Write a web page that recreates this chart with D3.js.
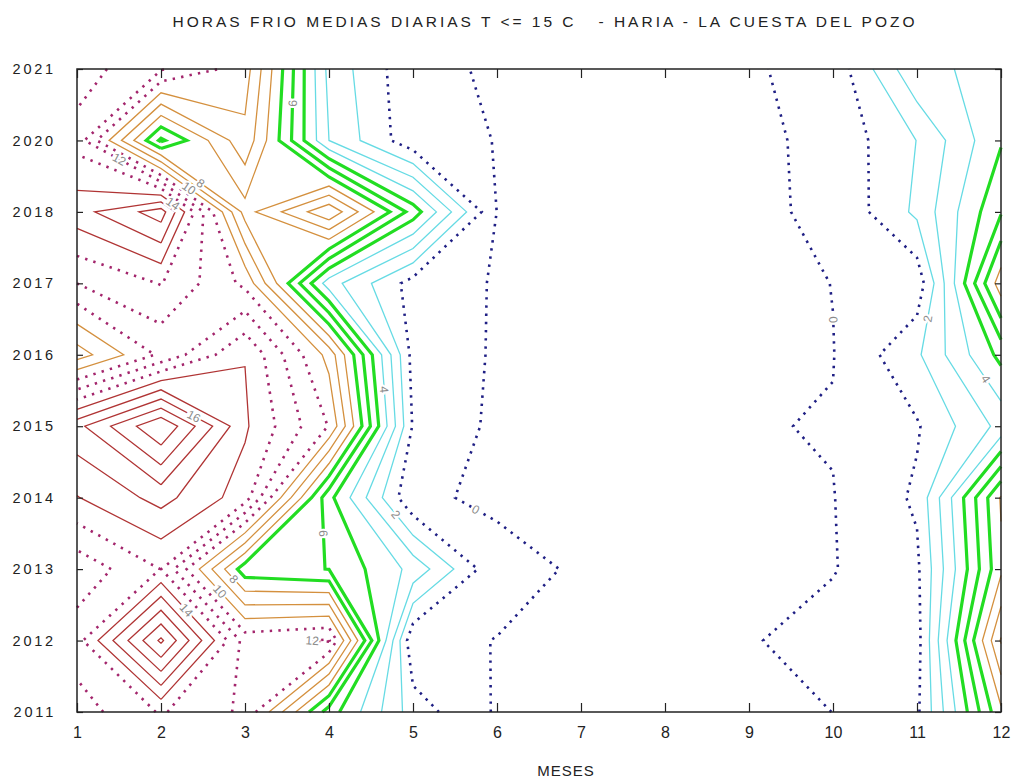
<!DOCTYPE html>
<html><head><meta charset="utf-8">
<script src="https://cdn.jsdelivr.net/npm/d3@7"></script>
<style>body{margin:0;background:#fff;} svg{display:block;font-family:"Liberation Sans",Arial,sans-serif;}</style>
</head><body>
<svg id="chart" width="1013" height="778"></svg>
<script>
// ---------- data ----------
const months = [1,2,3,4,5,6,7,8,9,10,11,12];
const yearLabels = ["2011","2012","2013","2014","2015","2016","2017","2018","2020","2021"];
// mean daily cold hours (T <= 15 C), one array per year, months 1..12
const h2011 = [11.5, 13.1, 11.8, 5.5, 1.5, -0.12, -0.5, -0.5, -1.0, 0.02, 0.8, 7.8];
const h2012 = [12.6, 18.2, 11.6, 12.1, 0.15, -0.013, -0.5, -0.5, -0.07, 0.35, 0.6, 10.1];
const h2013 = [11.3, 13.02, 6.4, 5.98, 3.7, 0.2, -0.07, -0.5, -0.5, -0.05, 0.8, 7.8];
const h2014 = [13.95, 15.35, 13.5, 5.3, 0.1, -0.1, -0.5, -0.5, -0.5, -0.03, 1.15, 8.1];
const h2015 = [15.7, 18.95, 14.15, 10.95, 0.9, -0.225, -0.5, -0.5, -0.055, 0.05, 0.9, 3.3];
const h2016 = [8.5, 11.2, 13.97, 9.65, 0.63, -0.1, -0.5, -0.5, -0.5, -0.03, 1.83, 5.3];
const h2017 = [12.0, 13.05, 10.75, 3.45, 0.58, -0.08, -0.5, -0.5, -0.5, 0.02, 0.32, 8.6];
const h2018 = [14.6, 16.5, 7.6, 10.83, 5.55, -0.02, -0.5, -0.5, -0.1, 0.1, 2.21, 5.9];
const h2020 = [12.6, 5.8, 9.72, 3.0, 0.3, -0.02, -0.5, -0.5, -0.22, 0.26, 2.02, 4.9];
const h2021 = [13.5, 12.1, 10.5, 2.7, 0.23, -0.11, -0.5, -0.5, -0.1, 0.33, 3.84, 4.2];
const contourLevels = [0,1,2,3,4,5,6,7,8,9,10,11,12,13,14,15,16,17,18];
// contour labels: level and approximate (month, year-row) where they were written
const labelLevels = [0, 0, 2, 4, 2, 4, 6, 6, 8, 10, 14, 12, 16, 14, 10, 8, 12];
const labelMonths = [5.76, 10.0, 11.11, 11.77, 4.79, 4.63, 3.97, 3.58, 2.5, 2.33, 2.17, 1.51, 2.44, 2.37, 2.74, 2.86, 3.5];
const labelRows   = [2.86, 5.49, 5.51, 4.62, 2.76, 4.51, 2.5, 8.52, 7.45, 7.33, 7.16, 7.75, 4.25, 1.5, 1.73, 1.85, 1.0];
const titleText = "HORAS FRIO MEDIAS DIARIAS T <= 15 C   - HARIA - LA CUESTA DEL POZO";
const xTitleText = "MESES";

const grid = [h2011, h2012, h2013, h2014, h2015, h2016, h2017, h2018, h2020, h2021];

// ---------- layout ----------
const svg = d3.select("#chart");
const pLeft = 77, pRight = 1001, pTop = 69, pBottom = 712;
const x = d3.scaleLinear().domain([1, 12]).range([pLeft, pRight]);
const yRow = d3.scaleLinear().domain([0, yearLabels.length - 1]).range([pBottom, pTop]);
const yBand = d3.scalePoint().domain(yearLabels).range([pBottom, pTop]);

function styleFor(l) {
  if (l <= 1) return {c: "#1f1f84", w: 2.6, dash: "2.4,5.8"};
  if (l <= 4) return {c: "#66dbe4", w: 1.3, dash: null};
  if (l <= 7) return {c: "#22dd22", w: 3.2, dash: null};
  if (l <= 10) return {c: "#d4903e", w: 1.3, dash: null};
  if (l <= 13) return {c: "#a3256c", w: 2.6, dash: "2.4,6.2"};
  return {c: "#b03434", w: 1.3, dash: null};
}

// marching squares on the (month, row) grid, chained into polylines.
// Saddle cells: the high corners are cut off on their own.
function contourLines(g, L) {
  const ny = g.length, nx = g[0].length;
  const segs = [];
  for (let j = 0; j < ny - 1; j++) {
    for (let i = 0; i < nx - 1; i++) {
      const a = g[j][i], b = g[j][i+1], c = g[j+1][i+1], d = g[j+1][i];
      const A = a >= L, B = b >= L, C = c >= L, D = d >= L;
      const e = {};
      if (A !== B) e.B = {id: "h" + i + "_" + j, p: [i + (L - a) / (b - a), j]};
      if (B !== C) e.R = {id: "v" + (i+1) + "_" + j, p: [i + 1, j + (L - b) / (c - b)]};
      if (D !== C) e.T = {id: "h" + i + "_" + (j+1), p: [i + (L - d) / (c - d), j + 1]};
      if (A !== D) e.L = {id: "v" + i + "_" + j, p: [i, j + (L - a) / (d - a)]};
      const k = Object.keys(e);
      if (k.length === 2) segs.push([e[k[0]], e[k[1]]]);
      else if (k.length === 4) {
        if (A) segs.push([e.B, e.L]);
        if (B) segs.push([e.B, e.R]);
        if (C) segs.push([e.R, e.T]);
        if (D) segs.push([e.T, e.L]);
      }
    }
  }
  const byId = new Map(), pt = new Map();
  segs.forEach((s, si) => s.forEach(en => {
    if (!byId.has(en.id)) byId.set(en.id, []);
    byId.get(en.id).push(si);
    pt.set(en.id, en.p);
  }));
  const used = new Array(segs.length).fill(false);
  const lines = [];
  function walk(startId) {
    const line = [pt.get(startId)];
    let cur = startId;
    while (true) {
      const next = (byId.get(cur) || []).find(si => !used[si]);
      if (next === undefined) break;
      used[next] = true;
      const s = segs[next];
      cur = s[0].id === cur ? s[1].id : s[0].id;
      line.push(pt.get(cur));
    }
    return line;
  }
  for (const [id, list] of byId) if (list.length === 1 && !used[list[0]]) lines.push(walk(id));
  segs.forEach((s, si) => { if (!used[si]) lines.push(walk(s[0].id)); });
  return lines;
}

const plot = svg.append("g");
const lineGen = d3.line().x(p => x(p[0] + 1)).y(p => yRow(p[1]));
const allLines = {};
contourLevels.forEach(L => {
  const lines = contourLines(grid, L);
  allLines[L] = lines;
  const st = styleFor(L);
  plot.selectAll(null).data(lines).enter().append("path")
    .attr("d", lineGen)
    .attr("fill", "none")
    .attr("stroke", st.c)
    .attr("stroke-width", st.w)
    .attr("stroke-linejoin", "miter")
    .attr("stroke-dasharray", st.dash);
});

// contour labels placed on the nearest point of their contour
const lab = svg.append("g");
labelLevels.forEach((L, k) => {
  const tx = x(labelMonths[k]), ty = yRow(labelRows[k]);
  let best = null;
  (allLines[L] || []).forEach(line => {
    for (let s = 0; s < line.length - 1; s++) {
      const x1 = x(line[s][0] + 1), y1 = yRow(line[s][1]);
      const x2 = x(line[s+1][0] + 1), y2 = yRow(line[s+1][1]);
      const dx = x2 - x1, dy = y2 - y1, len2 = dx*dx + dy*dy || 1;
      let t = ((tx - x1) * dx + (ty - y1) * dy) / len2;
      t = Math.max(0, Math.min(1, t));
      const px = x1 + t*dx, py = y1 + t*dy;
      const dd = (px - tx) ** 2 + (py - ty) ** 2;
      if (!best || dd < best.dd) best = {dd, px, py, ang: Math.atan2(dy, dx) * 180 / Math.PI};
    }
  });
  if (!best) return;
  let a = best.ang;
  if (a > 90) a -= 180;
  if (a <= -90) a += 180;
  lab.append("text")
    .attr("transform", `translate(${best.px},${best.py}) rotate(${a})`)
    .attr("text-anchor", "middle")
    .attr("dy", "0.35em")
    .attr("font-size", 12)
    .attr("fill", "#8a8a8a")
    .attr("stroke", "#fff")
    .attr("stroke-width", 4)
    .attr("paint-order", "stroke")
    .text(String(L));
});

// ---------- axes & frame ----------
const ax = svg.append("g");
const bottomAxis = ax.append("g").attr("transform", `translate(0,${pBottom})`)
  .call(d3.axisBottom(x).tickValues(months).tickFormat(d3.format("d")).tickSizeInner(-9).tickSizeOuter(0).tickPadding(15));
ax.append("g").attr("transform", `translate(0,${pTop})`)
  .call(d3.axisTop(x).tickValues(months).tickFormat("").tickSizeInner(-9).tickSizeOuter(0));
const leftAxis = ax.append("g").attr("transform", `translate(${pLeft},0)`)
  .call(d3.axisLeft(yBand).tickSizeInner(-6).tickSizeOuter(0).tickPadding(21));
ax.append("g").attr("transform", `translate(${pRight},0)`)
  .call(d3.axisRight(yBand).tickFormat("").tickSizeInner(-6).tickSizeOuter(0));
ax.selectAll(".domain").remove();
ax.selectAll(".tick line").attr("stroke", "#222").attr("stroke-width", 1.2);
bottomAxis.selectAll("text").attr("font-size", 16).attr("fill", "#222").attr("font-family", "Liberation Sans, Arial, sans-serif");
leftAxis.selectAll("text").attr("font-size", 14.5).attr("fill", "#222").attr("letter-spacing", 2.8).attr("font-family", "Liberation Sans, Arial, sans-serif");

svg.append("rect").attr("x", pLeft).attr("y", pTop).attr("width", pRight - pLeft).attr("height", pBottom - pTop)
  .attr("fill", "none").attr("stroke", "#222").attr("stroke-width", 1.5);

svg.append("text").attr("x", 543.5).attr("y", 27).attr("text-anchor", "middle")
  .attr("font-size", 15.5).attr("fill", "#222").style("white-space", "pre")
  .attr("textLength", 742).attr("lengthAdjust", "spacing").text(titleText);

svg.append("text").attr("x", 566).attr("y", 776).attr("text-anchor", "middle")
  .attr("font-size", 15).attr("fill", "#222").attr("letter-spacing", 1).text(xTitleText);
</script>
</body></html>
